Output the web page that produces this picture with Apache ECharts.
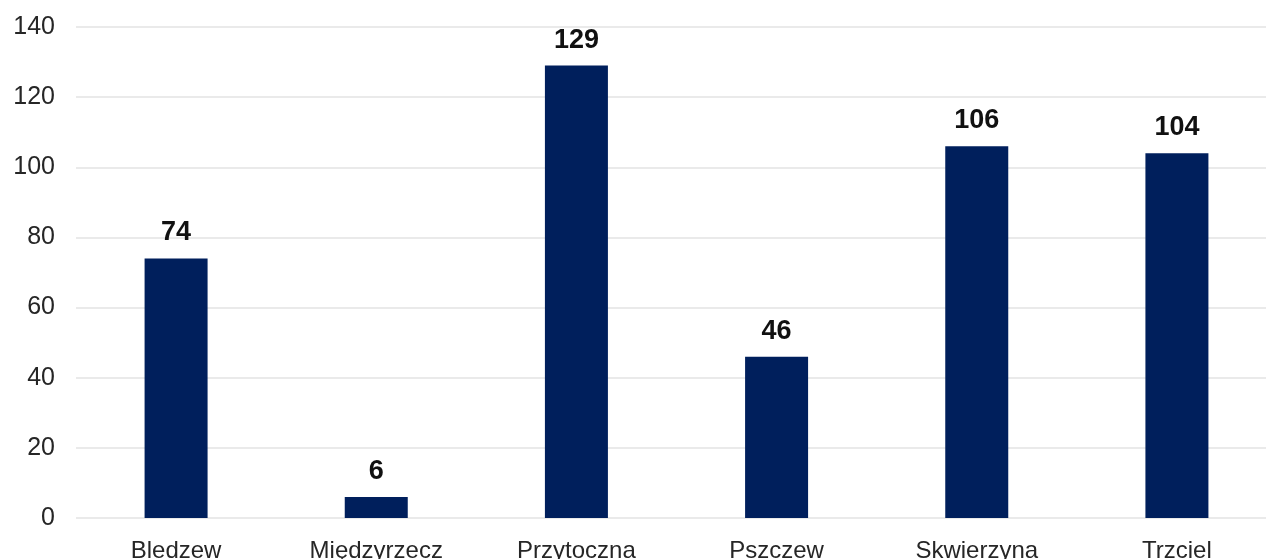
<!DOCTYPE html>
<html>
<head>
<meta charset="utf-8">
<script src="https://cdn.jsdelivr.net/npm/echarts@6/dist/echarts.min.js"></script>
<style>
html, body { margin: 0; padding: 0; background: #fff; overflow: hidden; }
#wrap { width: 1266px; height: 559px; overflow: hidden; position: relative; }
#chart { width: 1277px; height: 559px; position: absolute; left: 0; top: 0; }
</style>
</head>
<body>
<div id="wrap"><div id="chart"></div></div>
<script>
const categories = ['Bledzew', 'Międzyrzecz', 'Przytoczna', 'Pszczew', 'Skwierzyna', 'Trzciel'];
const values = [74, 6, 129, 46, 106, 104];

const chart = echarts.init(document.getElementById('chart'));
const option = {
    animation: false,
    textStyle: { fontFamily: '"Liberation Sans", Arial, sans-serif' },
    grid: { left: 76, right: 0, top: 27, bottom: 41, outerBoundsMode: 'none', containLabel: false },
    xAxis: {
        type: 'category',
        data: categories,
        axisLine: { show: false },
        axisTick: { show: false },
        axisLabel: { color: '#262626', fontSize: 24, margin: 21, interval: 0 }
    },
    yAxis: {
        type: 'value',
        min: 0,
        max: 140,
        interval: 20,
        axisLine: { show: false },
        axisTick: { show: false },
        axisLabel: { color: '#262626', fontSize: 25, margin: 21 },
        splitLine: { lineStyle: { color: '#e3e3e3', width: 1.5 } }
    },
    series: [{
        type: 'bar',
        data: values,
        barWidth: 63,
        itemStyle: { color: '#001f5c' },
        label: {
            show: true,
            position: 'top',
            distance: 12,
            color: '#111',
            fontSize: 27,
            fontWeight: 'bold'
        }
    }]
};
chart.setOption(option);
</script>
</body>
</html>
